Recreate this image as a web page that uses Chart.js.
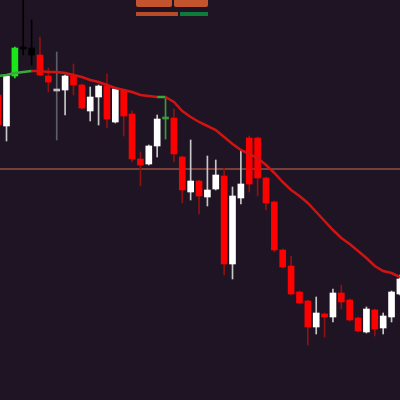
<!DOCTYPE html>
<html>
<head>
<meta charset="utf-8">
<script src="https://cdn.jsdelivr.net/npm/chart.js@4/dist/chart.umd.min.js"></script>
<style>
  html, body { margin: 0; padding: 0; background: #1f1423; }
  #wrap { width: 400px; height: 400px; position: relative; }
</style>
</head>
<body>
<div id="wrap"><canvas id="candles"></canvas></div>
<script>
// candle index, from the half cut one on the left edge to the one on the right edge
const bars = [-1, 0, 1, 2, 3, 4, 5, 6, 7, 8, 9, 10, 11, 12, 13, 14, 15, 16, 17, 18, 19, 20, 21, 22, 23,
    24, 25, 26, 27, 28, 29, 30, 31, 32, 33, 34, 35, 36, 37, 38, 39, 40, 41, 42, 43, 44, 45, 46, 47];

const opens = [305, 274, 324, 352, 345, 345, 324, 310, 310, 324, 315, 289, 303, 314, 278, 310, 286, 241, 236, 254,
    281, 282, 243, 208, 219, 203, 211, 224, 136, 202, 262, 262, 222, 198, 150, 134, 108, 99, 73, 86,
    83, 107, 100, 82, 68, 90, 72, 83, 106];
const highs = [307, 325, 353, 405, 380, 363, 332, 348, 325, 336, 316, 313, 315, 326, 312, 311, 289, 248, 255, 285,
    302, 291, 244, 260, 220, 244, 240, 232, 213, 250, 264, 263, 223, 199, 151, 144, 109, 100, 103, 87,
    111, 115, 101, 83, 93, 91, 87, 109, 125];
const lows = [273, 259, 322, 345, 335, 324, 308, 260, 285, 305, 291, 279, 275, 272, 277, 264, 238, 214, 235, 243,
    261, 238, 197, 200, 186, 194, 210, 125, 121, 196, 208, 204, 190, 148, 132, 105, 96, 55, 66, 63,
    78, 91, 79, 68, 67, 64, 66, 78, 105];
const closes = [275, 324, 352, 351, 352, 325, 318, 309, 324, 315, 292, 303, 314, 281, 311, 284, 241, 235, 254, 281,
    283, 246, 210, 219, 204, 210, 225, 136, 204, 216, 216, 222, 197, 150, 133, 106, 97, 73, 87, 83,
    107, 98, 80, 69, 91, 71, 84, 108, 121];

// signal tags on some candles
const tags = ['', '', 'hi', 'dark', 'dark', '', '', 'flat', '', '', '', '', '', '', '', '', '', '', '', '',
    'mark', '', '', '', '', '', '', '', '', '', '', '', '', '', '', '', '', '', '', '',
    '', '', '', '', '', '', '', '', ''];

// moving average and where it is flagged
const average = [324, 325, 327, 328, 329, 329, 328, 328, 327, 325, 323, 320, 318, 315, 312, 310, 308, 305, 304, 303,
    303, 298, 289, 283, 278, 274, 270, 263, 256, 250, 246, 242, 235, 227, 218, 210, 204, 197, 188, 179,
    170, 162, 156, 149, 142, 134, 129, 127, 123];
const averageFlag = [1, 1, 1, 1, 1, 0, 0, 0, 0, 0, 0, 0, 0, 0, 0, 0, 0, 0, 0, 1,
    1, 0, 0, 0, 0, 0, 0, 0, 0, 0, 0, 0, 0, 0, 0, 0, 0, 0, 0, 0,
    0, 0, 0, 0, 0, 0, 0, 0, 0];

const levelPrice = 231;

const bodyColor = (i) => {
    const t = tags[i];
    if (t === 'hi') return '#18e818';
    if (t === 'dark') return '#000000';
    if (t === 'flat') return '#c4c4c4';
    if (t === 'mark') return '#3a9c3a';
    return closes[i] >= opens[i] ? '#ffffff' : '#ff0000';
};
const wickColor = (i) => {
    const t = tags[i];
    if (t === 'hi') return '#18e818';
    if (t === 'dark') return '#000000';
    if (t === 'flat') return '#5e5e66';
    if (t === 'mark') return '#3a9c3a';
    return closes[i] >= opens[i] ? '#c8c8c8' : '#8e1212';
};

// top badges, just shapes
const badges = {
    id: 'badges',
    afterDraw(chart) {
        const c = chart.ctx;
        c.save();
        c.fillStyle = '#c4542e';
        c.beginPath(); c.roundRect(136, -4, 36, 11, 2); c.fill();
        c.beginPath(); c.roundRect(174, -4, 34, 11, 2); c.fill();
        c.fillStyle = '#b84c28';
        c.fillRect(136, 12, 42, 4);
        c.fillStyle = '#0e7a3c';
        c.fillRect(180, 12, 28, 4);
        c.restore();
    }
};

new Chart(document.getElementById('candles'), {
    type: 'bar',
    data: {
        datasets: [
            {
                type: 'line',
                data: [{ x: -2, y: levelPrice }, { x: 48, y: levelPrice }],
                borderColor: '#d06a50',
                borderWidth: 1,
                pointRadius: 0,
                order: 4
            },
            {
                data: bars.map((b, i) => ({ x: b, y: [lows[i], highs[i]] })),
                backgroundColor: bars.map((b, i) => wickColor(i)),
                barThickness: 1,
                grouped: false,
                order: 3
            },
            {
                data: bars.map((b, i) => ({ x: b, y: [opens[i], closes[i]] })),
                backgroundColor: bars.map((b, i) => bodyColor(i)),
                barThickness: 6,
                minBarLength: 2,
                grouped: false,
                order: 2
            },
            {
                type: 'line',
                data: bars.map((b, i) => ({ x: b, y: average[i] })),
                borderColor: '#d01414',
                borderWidth: 2.5,
                pointRadius: 0,
                tension: 0,
                segment: {
                    borderColor: ctx => averageFlag[ctx.p0DataIndex] && averageFlag[ctx.p1DataIndex] ? '#3aa83a' : '#d01414'
                },
                order: 1
            }
        ]
    },
    options: {
        responsive: true,
        maintainAspectRatio: false,
        animation: false,
        layout: { padding: 0 },
        plugins: {
            legend: { display: false },
            tooltip: { enabled: false }
        },
        scales: {
            x: {
                type: 'linear',
                min: -0.777,
                max: 47.01,
                offset: false,
                display: false
            },
            y: {
                min: 0,
                max: 400,
                display: false
            }
        }
    },
    plugins: [badges]
});
</script>
</body>
</html>
